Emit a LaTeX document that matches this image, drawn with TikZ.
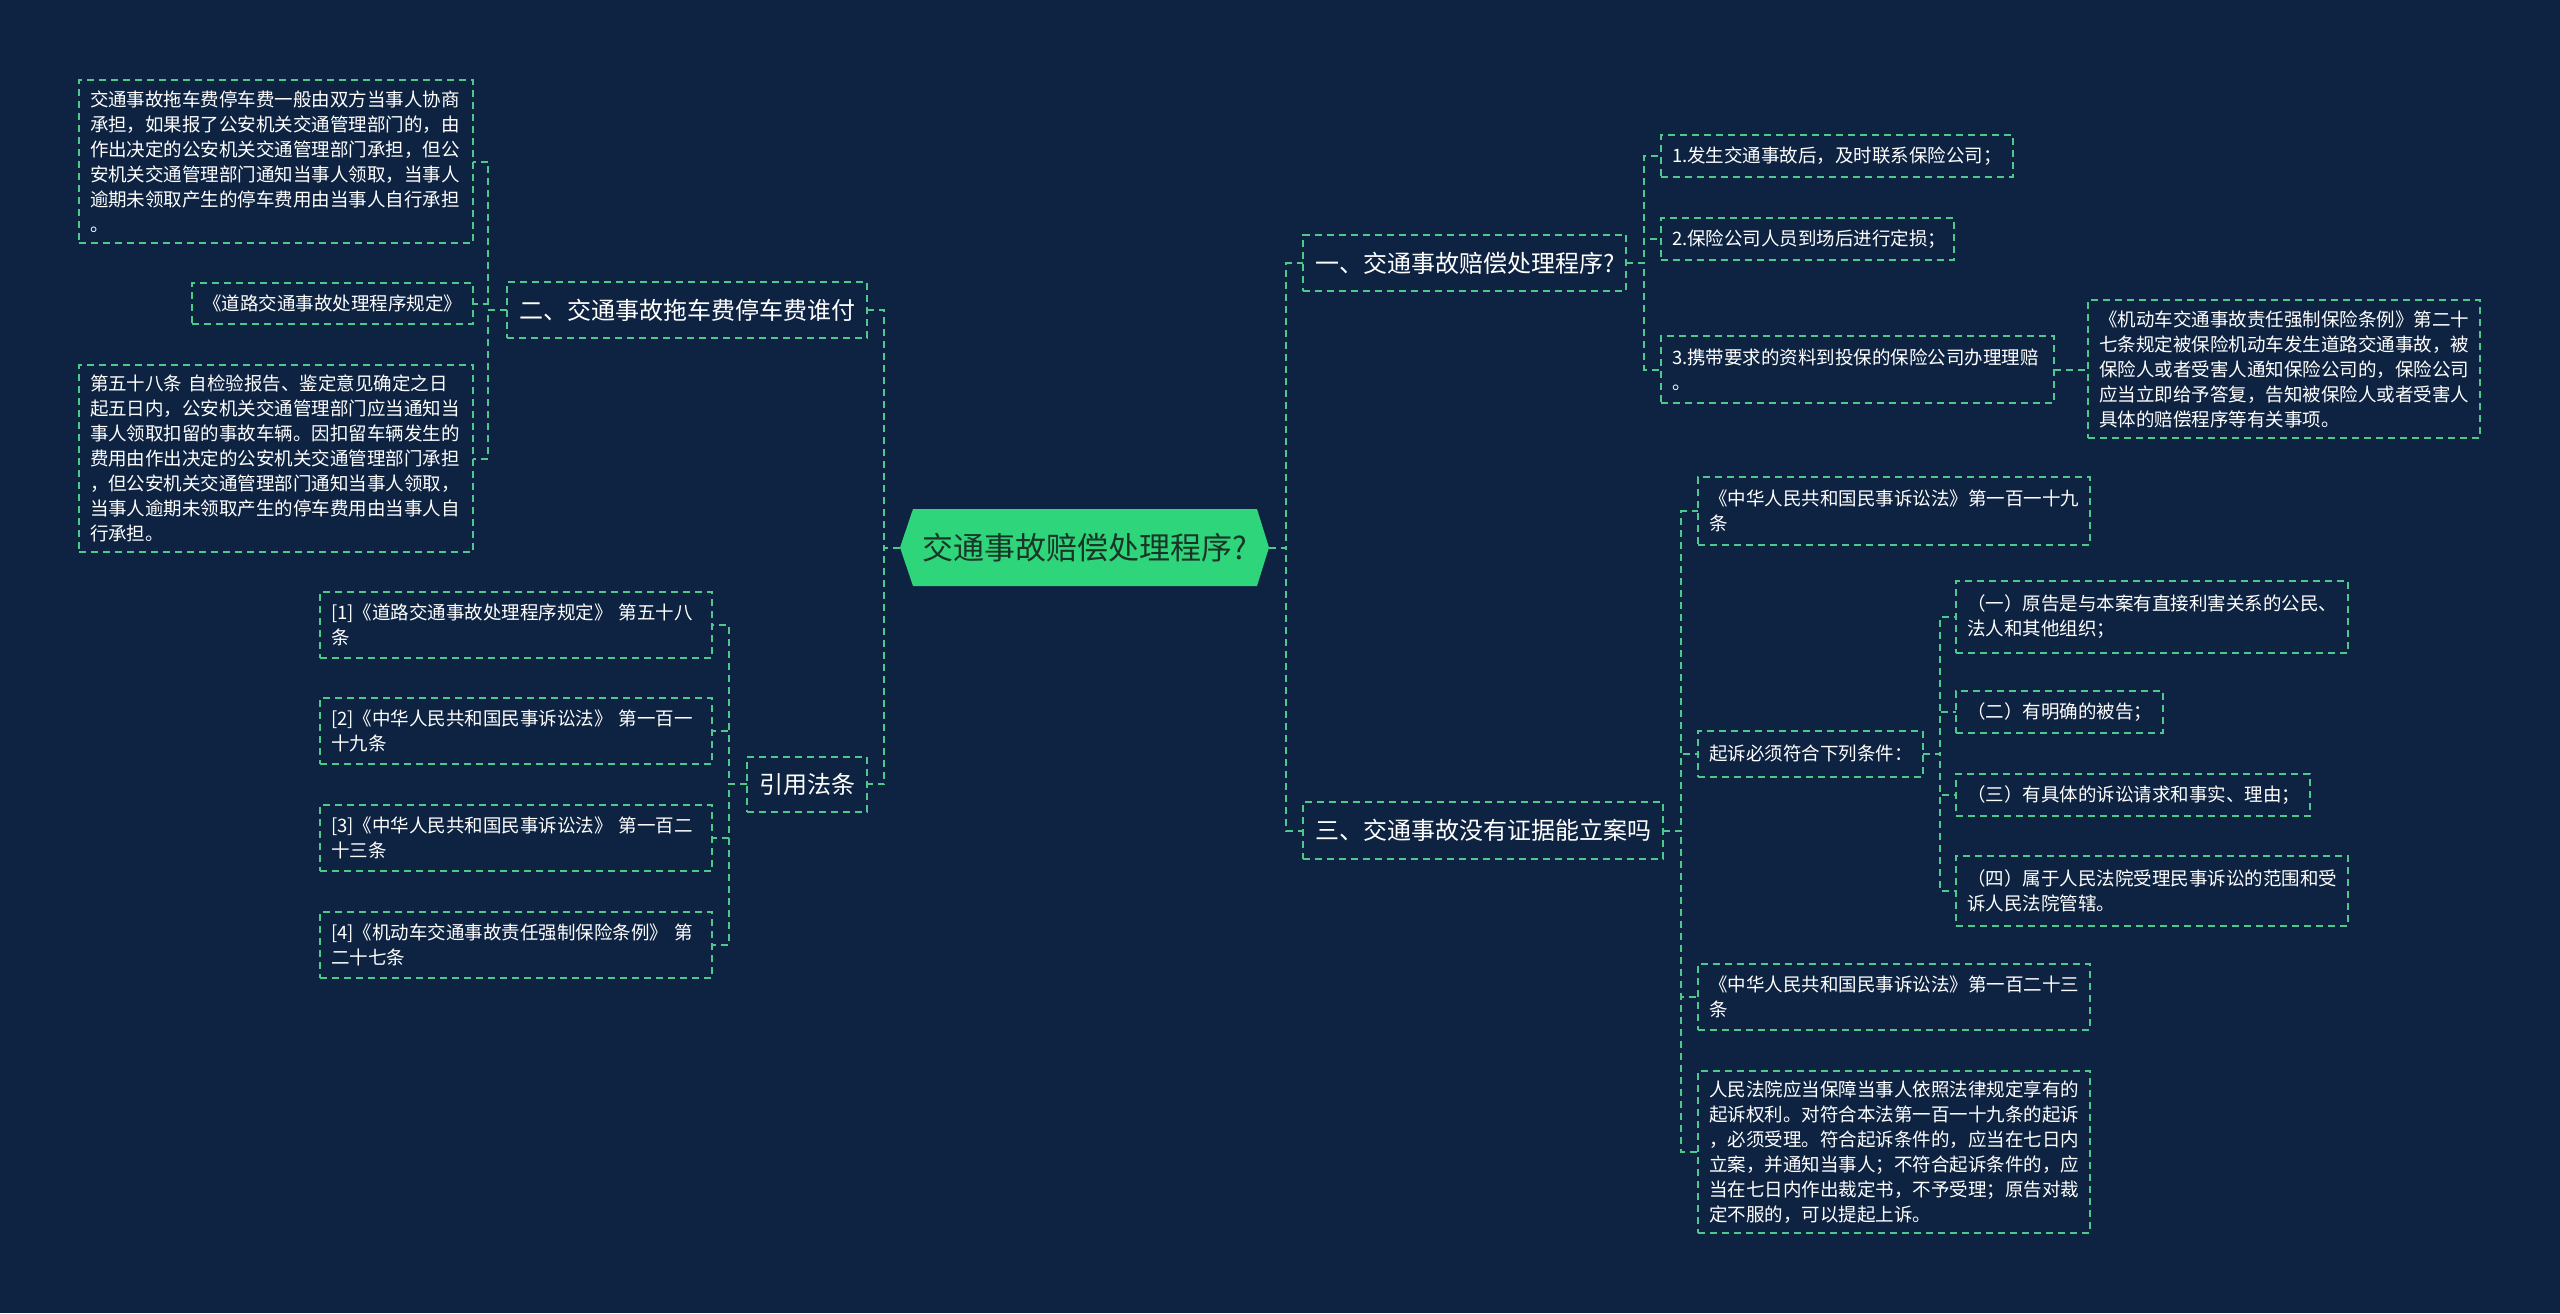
\documentclass[tikz,border=0pt]{standalone}
\usepackage{fontspec}
\setmainfont{Noto Sans CJK SC}
\definecolor{bgc}{HTML}{0E2341}
\definecolor{lineg}{HTML}{4EC98B}
\definecolor{hexfill}{HTML}{2ED57A}
\definecolor{hextext}{HTML}{1A3527}
\tikzset{
  conn/.style={draw=lineg, line width=1pt, dash pattern=on 3.5pt off 2.5pt},
  leaf/.style={draw=lineg, line width=1pt, dash pattern=on 3.5pt off 2.5pt,
    text=white, font=\fontsize{9.25pt}{12.5pt}\selectfont, align=left,
    inner xsep=5.5pt, inner ysep=0pt, outer sep=0pt},
  lvl/.style={draw=lineg, line width=1pt, dash pattern=on 3.5pt off 2.5pt,
    text=white, font=\fontsize{12pt}{14pt}\selectfont,
    inner xsep=6pt, inner ysep=0pt, outer sep=0pt}
}
\newcommand\leafnode[6]{%
  \pgfmathsetmacro\myLW{(#4-#2)*0.5-11}%
  \pgfmathsetmacro\myLH{(#5-#3)*0.5}%
  \node[leaf, anchor=north west, text width=\myLW pt, minimum height=\myLH pt] (#1) at (#2,#3) {#6};}
\begin{document}
\begin{tikzpicture}[x=0.5pt, y=-0.5pt]
\fill[bgc] (0,0) rectangle (2560,1313);
\useasboundingbox (0,0) rectangle (2560,1313);

% root
\fill[hexfill] (900,547.5) -- (913,509) -- (1257,509) -- (1269,547.5) -- (1257,586) -- (913,586) -- cycle;
\node[font=\fontsize{15.5pt}{18pt}\selectfont, text=hextext, minimum width=184.5pt, minimum height=38.5pt, inner sep=0pt, outer sep=0pt] (root) at (1084.5,547.5) {交通事故赔偿处理程序?};

% trunks
\coordinate (tRootL) at (884,547.5);
\coordinate (tRootR) at (1286,547.5);
\coordinate (tL1) at (488,0);
\coordinate (tL2) at (729,0);
\coordinate (tR1) at (1644,0);
\coordinate (tR2) at (1681,0);
\coordinate (tF) at (1940,0);

% level 1
\node[lvl, anchor=east, minimum height=28pt] (L1) at (867,310) {二、交通事故拖车费停车费谁付};
\node[lvl, anchor=east, minimum height=27.5pt] (L2) at (867,784) {引用法条};
\node[lvl, anchor=west, minimum height=28pt] (R1) at (1303,263) {一、交通事故赔偿处理程序?};
\node[lvl, anchor=west, minimum height=28.5pt] (R2) at (1303,830.5) {三、交通事故没有证据能立案吗};

% left leaves
\leafnode{la}{79}{80}{473}{243}{交通事故拖车费停车费一般由双方当事人协商\\承担，如果报了公安机关交通管理部门的，由\\作出决定的公安机关交通管理部门承担，但公\\安机关交通管理部门通知当事人领取，当事人\\逾期未领取产生的停车费用由当事人自行承担\\。}
\leafnode{lb}{192}{283}{473}{324}{《道路交通事故处理程序规定》}
\leafnode{lc}{79}{365}{473}{552}{第五十八条~自检验报告、鉴定意见确定之日\\起五日内，公安机关交通管理部门应当通知当\\事人领取扣留的事故车辆。因扣留车辆发生的\\费用由作出决定的公安机关交通管理部门承担\\，但公安机关交通管理部门通知当事人领取，\\当事人逾期未领取产生的停车费用由当事人自\\行承担。}
\leafnode{ref1}{320}{592}{712}{658}{[1]《道路交通事故处理程序规定》~第五十八\\条}
\leafnode{ref2}{320}{698}{712}{764}{[2]《中华人民共和国民事诉讼法》~第一百一\\十九条}
\leafnode{ref3}{320}{805}{712}{871}{[3]《中华人民共和国民事诉讼法》~第一百二\\十三条}
\leafnode{ref4}{320}{912}{712}{978}{[4]《机动车交通事故责任强制保险条例》~第\\二十七条}

% right leaves
\leafnode{ra}{1661}{135}{2013}{177}{1.发生交通事故后，及时联系保险公司；}
\leafnode{rb}{1661}{218}{1954}{260}{2.保险公司人员到场后进行定损；}
\leafnode{rc}{1661}{336}{2054}{403}{3.携带要求的资料到投保的保险公司办理理赔\\。}
\leafnode{rd}{2088}{300}{2480}{438}{《机动车交通事故责任强制保险条例》第二十\\七条规定被保险机动车发生道路交通事故，被\\保险人或者受害人通知保险公司的，保险公司\\应当立即给予答复，告知被保险人或者受害人\\具体的赔偿程序等有关事项。}
\leafnode{e1}{1698}{477}{2090}{545}{《中华人民共和国民事诉讼法》第一百一十九\\条}
\leafnode{f0}{1698}{731}{1923}{777}{起诉必须符合下列条件：}
\leafnode{f1}{1956}{581}{2348}{653}{（一）原告是与本案有直接利害关系的公民、\\法人和其他组织；}
\leafnode{f2}{1956}{691}{2163}{733}{（二）有明确的被告；}
\leafnode{f3}{1956}{774}{2310}{816}{（三）有具体的诉讼请求和事实、理由；}
\leafnode{f4}{1956}{856}{2348}{926}{（四）属于人民法院受理民事诉讼的范围和受\\诉人民法院管辖。}
\leafnode{g1}{1698}{964}{2090}{1030}{《中华人民共和国民事诉讼法》第一百二十三\\条}
\leafnode{h1}{1698}{1071}{2090}{1233}{人民法院应当保障当事人依照法律规定享有的\\起诉权利。对符合本法第一百一十九条的起诉\\，必须受理。符合起诉条件的，应当在七日内\\立案，并通知当事人；不符合起诉条件的，应\\当在七日内作出裁定书，不予受理；原告对裁\\定不服的，可以提起上诉。}

% connectors
\foreach \c in {L1,L2} \draw[conn] (root.west) -- (tRootL) |- (\c.east);
\foreach \c in {R1,R2} \draw[conn] (root.east) -- (tRootR) |- (\c.west);
\foreach \c in {la,lb,lc} \draw[conn] (L1.west) -- (L1.west -| tL1) |- (\c.east);
\foreach \c in {ref1,ref2,ref3,ref4} \draw[conn] (L2.west) -- (L2.west -| tL2) |- (\c.east);
\foreach \c in {ra,rb,rc} \draw[conn] (R1.east) -- (R1.east -| tR1) |- (\c.west);
\draw[conn] (rc.east) -- (rc.east -| rd.west);
\foreach \c in {e1,f0,g1,h1} \draw[conn] (R2.east) -- (R2.east -| tR2) |- (\c.west);
\foreach \c in {f1,f2,f3,f4} \draw[conn] (f0.east) -- (f0.east -| tF) |- (\c.west);
\end{tikzpicture}
\end{document}
